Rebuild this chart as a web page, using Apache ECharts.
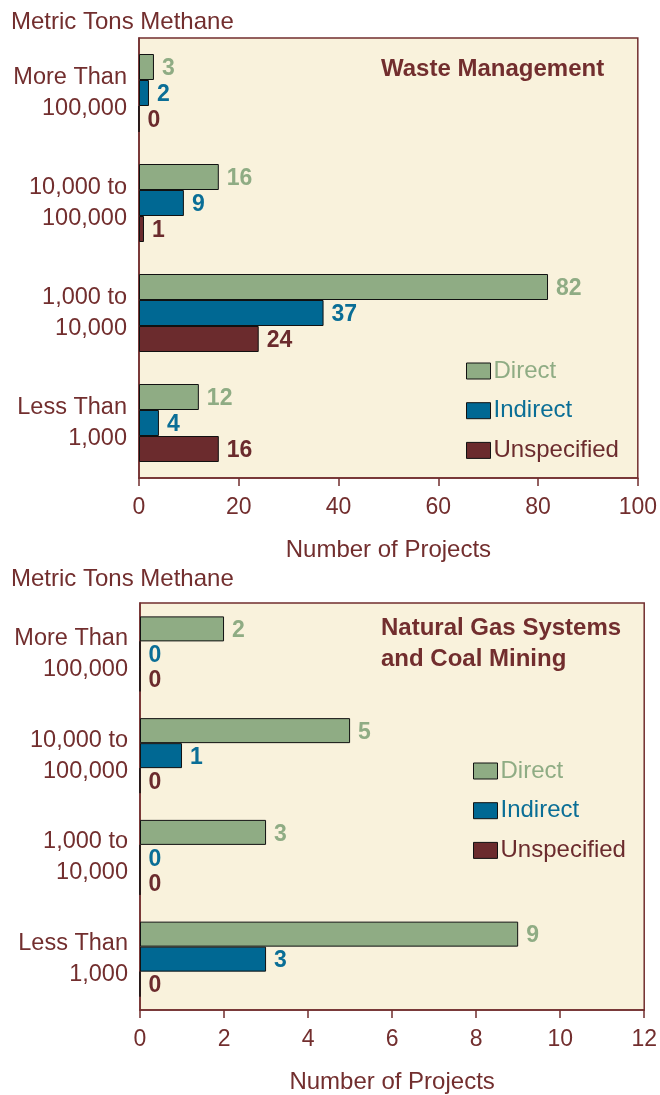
<!DOCTYPE html>
<html>
<head>
<meta charset="utf-8">
<script src="https://cdn.jsdelivr.net/npm/echarts@6/dist/echarts.min.js"></script>
<style>
html,body{margin:0;padding:0;background:#fff;}
#c{width:660px;height:1095px;}
</style>
</head>
<body>
<div id="c"></div>
<script>
var categories = ['More Than\n100,000', '10,000 to\n100,000', '1,000 to\n10,000', 'Less Than\n1,000'];
var seriesNames = ['Direct', 'Indirect', 'Unspecified'];
var wasteDirect = [3, 16, 82, 12];
var wasteIndirect = [2, 9, 37, 4];
var wasteUnspecified = [0, 1, 24, 16];
var gasDirect = [2, 5, 3, 9];
var gasIndirect = [0, 1, 0, 3];
var gasUnspecified = [0, 0, 0, 0];
var wasteTicks = [0, 20, 40, 60, 80, 100];
var gasTicks = [0, 2, 4, 6, 8, 10, 12];

var FONT = '"Liberation Sans", Arial, sans-serif';
var BROWN = '#722e2e';
var fills = ['#8fac84', '#006893', '#6b2b2d'];
var labelColors = ['#8fac84', '#0a6e96', '#6b2b2d'];

function xAx(idx, ticks) {
  return {
    type: 'value', gridIndex: idx,
    min: ticks[0], max: ticks[ticks.length - 1], interval: ticks[1] - ticks[0],
    splitLine: {show: false},
    axisLine: {show: true, lineStyle: {color: BROWN, width: 1.5}},
    axisTick: {show: true, inside: false, length: 8, lineStyle: {color: BROWN, width: 1.5}},
    axisLabel: {color: BROWN, fontSize: 23, fontFamily: FONT, margin: 18},
    name: 'Number of Projects', nameLocation: 'middle', nameGap: 60,
    nameTextStyle: {color: BROWN, fontSize: 24, fontFamily: FONT}
  };
}
function yAx(idx) {
  return {
    type: 'category', gridIndex: idx, data: categories, inverse: true,
    axisLine: {show: true, lineStyle: {color: BROWN, width: 1.5}},
    axisTick: {show: false},
    axisLabel: {color: BROWN, fontSize: 23.5, fontFamily: FONT, lineHeight: 31, align: 'right', margin: 12}
  };
}
function barSeries(name, data, i, idx, bw) {
  return {
    name: name, type: 'bar', xAxisIndex: idx, yAxisIndex: idx, data: data,
    barWidth: bw, barGap: '0%',
    itemStyle: {color: fills[i], borderColor: '#111', borderWidth: 1},
    label: {show: true, position: 'right', distance: 8, offset: [0, 2], color: labelColors[i],
      fontWeight: 'bold', fontSize: 23, fontFamily: FONT}
  };
}
function legend(left, top) {
  return {
    orient: 'vertical', left: left, top: top, padding: 0,
    itemWidth: 24, itemHeight: 16, itemGap: 15.7,
    icon: 'rect', selectedMode: false,
    itemStyle: {borderColor: '#111', borderWidth: 1},
    textStyle: {fontSize: 24, fontFamily: FONT, lineHeight: 24, padding: [0, 0, 0, -2]},
    data: seriesNames.map(function (n, i) { return {name: n, textStyle: {color: labelColors[i]}}; })
  };
}
function ttl(text, left, top, bold) {
  return {text: text, left: left, top: top, padding: 0,
    textStyle: {color: BROWN, fontSize: 24, fontWeight: bold ? 'bold' : 'normal', fontFamily: FONT, lineHeight: bold ? 31 : 28}};
}

var chart = echarts.init(document.getElementById('c'), null, {renderer: 'canvas'});
chart.setOption({
  backgroundColor: '#ffffff',
  animation: false,
  title: [
    ttl('Metric Tons Methane', 11, 8, false),
    ttl('Waste Management', 381, 54, true),
    ttl('Metric Tons Methane', 11, 565, false),
    ttl('Natural Gas Systems\nand Coal Mining', 381, 613, true)
  ],
  legend: [legend(466, 359), legend(473, 759)],
  grid: [
    {left: 139, top: 38, width: 499, height: 440, show: true, backgroundColor: '#f9f2dc', borderColor: BROWN, borderWidth: 1.5, containLabel: false},
    {left: 140, top: 603, width: 506, height: 410, show: true, backgroundColor: '#f9f2dc', borderColor: BROWN, borderWidth: 1.5, containLabel: false}
  ],
  xAxis: [xAx(0, wasteTicks), xAx(1, gasTicks)],
  yAxis: [yAx(0), yAx(1)],
  series: [
    barSeries('Direct', wasteDirect, 0, 0, 26),
    barSeries('Indirect', wasteIndirect, 1, 0, 26),
    barSeries('Unspecified', wasteUnspecified, 2, 0, 26),
    barSeries('Direct', gasDirect, 0, 1, 25),
    barSeries('Indirect', gasIndirect, 1, 1, 25),
    barSeries('Unspecified', gasUnspecified, 2, 1, 25)
  ]
});
</script>
</body>
</html>
